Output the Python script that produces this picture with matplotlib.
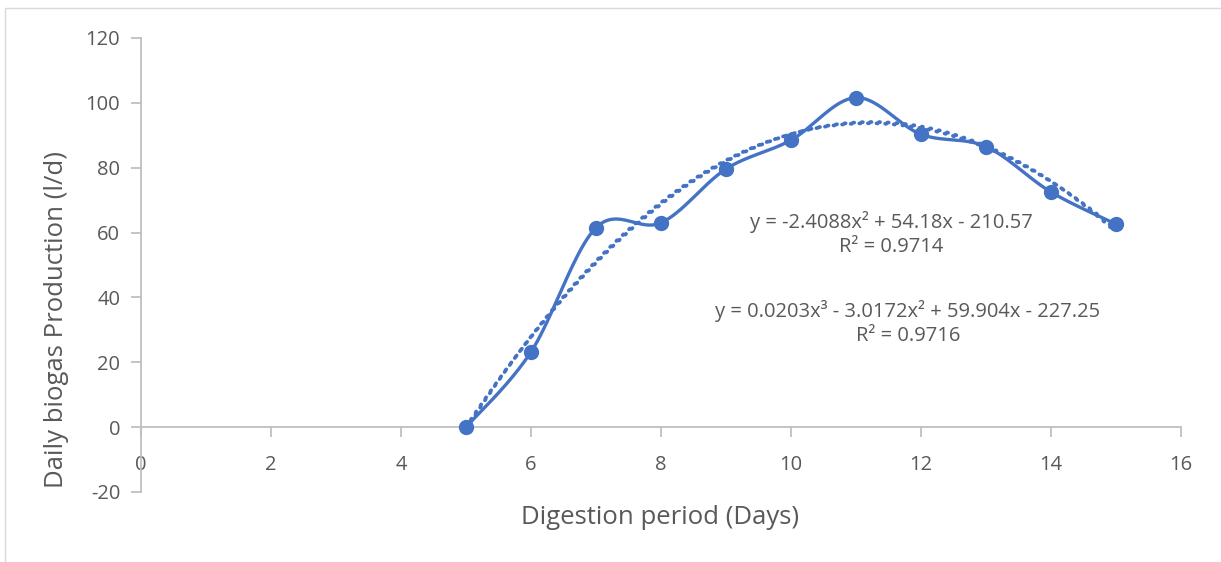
import matplotlib.pyplot as plt
import numpy as np
from matplotlib.patches import Rectangle

# dados medidos
days = [5, 6, 7, 8, 9, 10, 11, 12, 13, 14, 15]
biogas = [0, 23.2, 61.5, 63.0, 79.6, 88.5, 101.6, 90.3, 86.5, 72.5, 62.6]

# tendências polinomiais (coeficientes do ajuste)
quad_coef = [-2.4088, 54.18, -210.57]
cubic_coef = [0.0203, -3.0172, 59.904, -227.25]
quad_label = "y = -2.4088x² + 54.18x - 210.57\nR² = 0.9714"
cubic_label = "y = 0.0203x³ - 3.0172x² + 59.904x - 227.25\nR² = 0.9716"

x_ticks = [0, 2, 4, 6, 8, 10, 12, 14, 16]
y_ticks = [-20, 0, 20, 40, 60, 80, 100, 120]

BLUE = "#4472C4"
GRID = "#BFBFBF"
TXT = "#595959"
plt.rcParams['font.family'] = ['Open Sans', 'DejaVu Sans']
plt.rcParams['axes.unicode_minus'] = False


def smooth_line(xs, ys, n=40):
    """ Curva suavizada tipo Catmull-Rom (bezier com pontos de controle a 1/6) """
    p = np.column_stack([xs, ys]).astype(float)
    p = np.vstack([p[0], p, p[-1]])
    out = []
    t = np.linspace(0, 1, n)[:, None]
    for i in range(1, len(p) - 2):
        p0, p1 = p[i], p[i + 1]
        c1 = p0 + (p[i + 1] - p[i - 1]) / 6
        c2 = p1 - (p[i + 2] - p[i]) / 6
        seg = ((1 - t) ** 3) * p0 + 3 * ((1 - t) ** 2) * t * c1 + 3 * (1 - t) * t ** 2 * c2 + t ** 3 * p1
        out.append(seg)
    out = np.vstack(out)
    return out[:, 0], out[:, 1]


fig = plt.figure(figsize=(12.21, 5.62), dpi=100)
ax = fig.add_axes([0.1155, 0.1246, 0.8517, 0.8078])

# moldura do gráfico
fig.patches.append(Rectangle((5 / 1221, -0.05), 1.1, 1.05 - 8 / 562, transform=fig.transFigure,
                             fill=False, edgecolor="#D9D9D9", lw=1.0))

# linhas de tendência pontilhadas (quase sobrepostas)
xs = np.linspace(days[0], days[-1], 400)
dots = (0, (0.3, 2.0))
ax.plot(xs, np.polyval(quad_coef, xs), color=BLUE, lw=2.7, ls=dots,
        dash_capstyle='round', zorder=3)
ax.plot(xs, np.polyval(cubic_coef, xs), color=BLUE, lw=2.7, ls=dots,
        dash_capstyle='round', zorder=3)

sx, sy = smooth_line(days, biogas)
ax.plot(sx, sy, color=BLUE, lw=2.4, solid_capstyle='round', zorder=4)
ax.plot(days, biogas, 'o', color=BLUE, ms=10, zorder=5)

ax.set_xlim(0, 16)
ax.set_ylim(-20, 120)
ax.set_xticks(x_ticks)
ax.set_yticks(y_ticks)

ax.spines['left'].set_position(('data', 0))
ax.spines['bottom'].set_position(('data', 0))
ax.spines['top'].set_visible(False)
ax.spines['right'].set_visible(False)
for s in ('left', 'bottom'):
    ax.spines[s].set_color(GRID)
    ax.spines[s].set_linewidth(1.3)
ax.tick_params(axis='both', color=GRID, width=1.3, length=7, labelcolor=TXT, labelsize=14.5)
ax.tick_params(axis='x', pad=13)
ax.tick_params(axis='y', pad=8)

fig.text(57 / 1221, 1 - 319 / 562, "Daily biogas Production (l/d)", rotation=90,
         ha='center', va='center', fontsize=18.5, color=TXT)
fig.text(660 / 1221, 1 - 517 / 562, "Digestion period (Days)", ha='center', va='center',
         fontsize=18.5, color=TXT)

fig.text(891 / 1221, 1 - 234 / 562, quad_label, ha='center', va='center',
         fontsize=14.5, color=TXT, linespacing=1.3)
fig.text(908 / 1221, 1 - 323 / 562, cubic_label, ha='center', va='center',
         fontsize=14.5, color=TXT, linespacing=1.3)

plt.savefig("out.png", dpi=100, facecolor="white")
